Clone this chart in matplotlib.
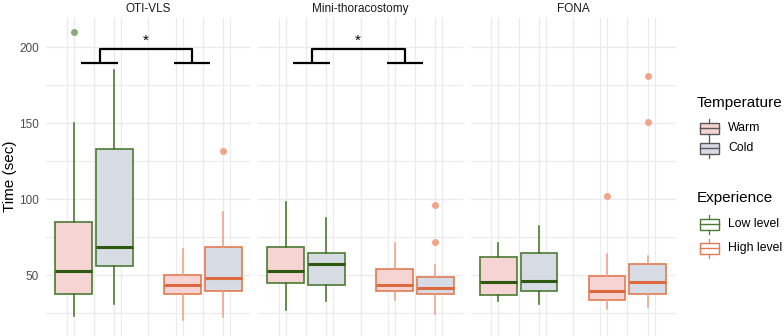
import matplotlib
matplotlib.use("Agg")
import matplotlib.pyplot as plt
from matplotlib.patches import Rectangle
from matplotlib.lines import Line2D

plt.rcParams['font.family'] = ['Liberation Sans', 'DejaVu Sans']

# ---------------- data ----------------
panels = ['OTI-VLS', 'Mini-thoracostomy', 'FONA']
experience = ['Low level', 'High level']
temperature = ['Warm', 'Cold']
# order within each panel: Low/Warm, Low/Cold, High/Warm, High/Cold
medians = [[53, 68.5, 44, 48], [53, 57.5, 44, 42], [45.5, 46.5, 39.5, 45.5]]
q1s = [[38, 56.5, 37.5, 39.5], [45, 44, 40, 38], [37, 40, 34, 37.5]]
q3s = [[85, 133, 50, 68.5], [68.5, 64.5, 54.5, 49], [62, 65, 49.5, 57.5]]
whislo = [[23.5, 31.5, 20.5, 22.5], [27.5, 33, 34, 24.5], [33, 31.5, 28, 29.5]]
whishi = [[150, 185, 67.5, 91.5], [98.5, 88, 71.5, 57], [71.5, 82.5, 64, 62.5]]
fliers = [[[210], [], [], [132]],
          [[], [], [], [96, 72]],
          [[], [], [102], [181, 151]]]
# significance brackets (panel index, left x, right x, star)
sig_panels = [0, 1]
sig_left = [1.05, 1.05]
sig_right = [1.90, 1.905]
sig_low = 190
sig_high = 199
sig_label = '*'
yticks = [50, 100, 150, 200]

# ---------------- style ----------------
fill_col = {'Warm': '#f6d4d4', 'Cold': '#d6dbe4'}
edge_col = {'Low level': '#4b7a34', 'High level': '#e27b52'}
med_col = {'Low level': '#2d5a10', 'High level': '#dd6a3e'}
whis_col = {'Low level': '#3f6e22', 'High level': '#eda085'}
out_col = {'Low level': '#8aab78', 'High level': '#f0a58a'}
grid_col = '#ebebeb'

W, H = 784, 336
fig = plt.figure(figsize=(W / 100, H / 100), dpi=100)

panel_left = [46, 258, 470.5]
panel_w = 205
top_px, bot_px = 17.7, 335.5
ylim = (10.5, 219.5)
xlim = (0.558, 2.442)
dodge = 0.1875
bw = 0.3375

for p, name in enumerate(panels):
    ax = fig.add_axes([panel_left[p] / W, 1 - bot_px / H, panel_w / W, (bot_px - top_px) / H])
    ax.set_xlim(*xlim)
    ax.set_ylim(*ylim)
    for s in ax.spines.values():
        s.set_visible(False)
    ax.set_yticks(yticks)
    ax.set_yticks([25, 75, 125, 175], minor=True)
    ax.set_xticks([1, 1.5, 2])
    ax.set_xticks([0.75, 1.25, 1.75, 2.25], minor=True)
    ax.grid(True, which='major', color=grid_col, lw=1.0)
    ax.grid(True, which='minor', color=grid_col, lw=0.8)
    ax.set_axisbelow(True)
    ax.tick_params(which='both', length=0, labelbottom=False)
    if p == 0:
        ax.tick_params(axis='y', labelsize=8.5, labelcolor='#4d4d4d', pad=5)
        ax.set_ylabel('Time (sec)', fontsize=11, color='black')
        ax.yaxis.set_label_coords((17 - 46) / panel_w, 0.502)
    else:
        ax.tick_params(axis='y', labelleft=False)
    ax.set_title(name, fontsize=8.5, color='#1a1a1a', pad=4)

    k = 0
    for e_i, exp in enumerate(experience):
        for t_i, temp in enumerate(temperature):
            pos = (e_i + 1) + (-dodge if t_i == 0 else dodge)
            st = [dict(med=medians[p][k], q1=q1s[p][k], q3=q3s[p][k],
                       whislo=whislo[p][k], whishi=whishi[p][k], fliers=fliers[p][k])]
            ax.bxp(st, positions=[pos], widths=bw, patch_artist=True, showcaps=False,
                   boxprops=dict(facecolor=fill_col[temp], edgecolor=edge_col[exp], lw=1.2),
                   medianprops=dict(color=med_col[exp], lw=2.2, solid_capstyle='butt'),
                   whiskerprops=dict(color=whis_col[exp], lw=1.1),
                   flierprops=dict(marker='o', markersize=4, markerfacecolor=out_col[exp],
                                   markeredgecolor=out_col[exp]))
            k += 1
    ax.tick_params(labelbottom=False)

    if p in sig_panels:
        i = sig_panels.index(p)
        xl, xr = sig_left[i], sig_right[i]
        hw = 0.166
        kw = dict(color='black', lw=1.6, solid_capstyle='butt', zorder=5)
        ax.plot([xl - hw, xl + hw], [sig_low, sig_low], **kw)
        ax.plot([xr - hw, xr + hw], [sig_low, sig_low], **kw)
        ax.plot([xl, xl, xr, xr], [sig_low, sig_high, sig_high, sig_low], **kw)
        ax.text((xl + xr) / 2, sig_high + 1, sig_label, ha='center', va='bottom',
                fontsize=11, color='black')

# ---------------- legend ----------------
lg = fig.add_axes([0, 0, 1, 1])
lg.set_xlim(0, W)
lg.set_ylim(H, 0)
lg.axis('off')


def key(yc, fc, ec):
    x0, x1 = 700, 719
    lg.add_patch(Rectangle((x0, yc - 5.5), x1 - x0, 11, facecolor=fc, edgecolor=ec, lw=1.0))
    lg.add_line(Line2D([(x0 + x1) / 2] * 2, [yc - 9.5, yc - 5.5], color=ec, lw=0.9))
    lg.add_line(Line2D([(x0 + x1) / 2] * 2, [yc + 5.5, yc + 9.5], color=ec, lw=0.9))
    lg.add_line(Line2D([x0, x1], [yc, yc], color=ec, lw=1.0))


lg.text(697, 103, 'Temperature', fontsize=11, va='center', ha='left', color='black')
for yc, t in zip([128, 148], temperature):
    key(yc, fill_col[t], '#595959')
    lg.text(728, yc, t, fontsize=8.8, va='center', ha='left', color='black')
lg.text(697, 198, 'Experience', fontsize=11, va='center', ha='left', color='black')
for yc, e in zip([224, 248], experience):
    key(yc, 'white', edge_col[e])
    lg.text(728, yc, e, fontsize=8.8, va='center', ha='left', color='black')

fig.savefig('out.png', dpi=100)
